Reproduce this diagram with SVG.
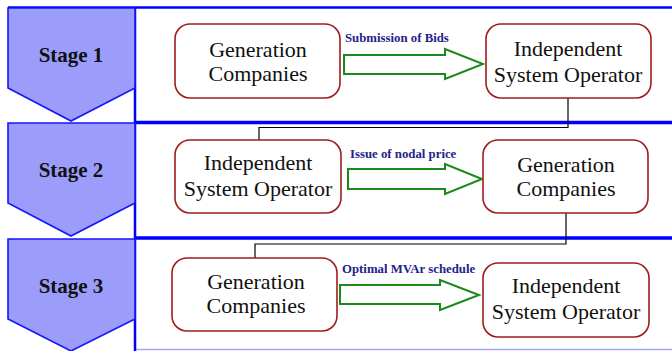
<svg xmlns="http://www.w3.org/2000/svg" width="672" height="351" viewBox="0 0 672 351">
<defs>
<style>
.stage{fill:#9c9cfb;stroke:#1414ff;stroke-width:1.6}
.stxt{font-family:'Liberation Serif','Times New Roman','DejaVu Serif',serif;font-weight:bold;font-size:21px;fill:#111;text-anchor:middle}
.node{fill:#fff;stroke:#a01c1c;stroke-width:1.6}
.ntxt{font-family:'Liberation Serif','Times New Roman','DejaVu Serif',serif;font-size:22px;fill:#111;text-anchor:middle}
.arr{fill:#fff;stroke:#1a8a1a;stroke-width:2;stroke-linejoin:miter}
.lbl{font-family:'Liberation Serif','Times New Roman','DejaVu Serif',serif;font-weight:bold;font-size:12.8px;fill:#22228a}
.sep{stroke:#0000ff;stroke-width:3.5}
.conn{fill:none;stroke:#000;stroke-width:1.2}
</style>
</defs>
<rect width="672" height="351" fill="#fff"/>
<g id="lanes">
<line x1="8" y1="7.5" x2="672" y2="7.5" stroke="#0000ff" stroke-width="2.5"/>
<line class="sep" x1="135" y1="122.5" x2="672" y2="122.5"/>
<line class="sep" x1="135" y1="238" x2="672" y2="238"/>
<line x1="135" y1="349.5" x2="672" y2="349.5" stroke="#a8a8ff" stroke-width="1.5"/>
<line x1="135" y1="7" x2="135" y2="351" stroke="#0000ff" stroke-width="2.5"/>
</g>
<g id="stage1"><polygon class="stage" points="8,8 135,8 135,88 71,121 8,88"/><text class="stxt" x="71" y="62">Stage 1</text></g>
<g id="stage2"><polygon class="stage" points="8,123 135,123 135,203 71,236 8,203"/><text class="stxt" x="71" y="177">Stage 2</text></g>
<g id="stage3"><polygon class="stage" points="8,239 135,239 135,319 71,351 8,319"/><text class="stxt" x="71" y="293">Stage 3</text></g>
<g id="connectors">
<polyline class="conn" points="568,98 568,127.5 259,127.5 259,140"/>
<polyline class="conn" points="566,213 566,244 255,244 255,258"/>
<polygon class="arr" points="344,55 445,55 445,49 483,64 445,79 445,74 344,74"/>
<polygon class="arr" points="348,169 445,169 445,164 482,179 445,194 445,189 348,189"/>
<polygon class="arr" points="340,285 440,285 440,280 479,295 440,310 440,304 340,304"/>
<text class="lbl" x="345" y="42">Submission of Bids</text>
<text class="lbl" x="350" y="158">Issue of nodal price</text>
<text class="lbl" x="342" y="273">Optimal MVAr schedule</text>
</g>
<g id="genco1"><rect class="node" x="175" y="24" width="165" height="74" rx="15"/><text class="ntxt" x="258" y="57">Generation</text><text class="ntxt" x="258" y="81">Companies</text></g>
<g id="iso1"><rect class="node" x="486" y="24" width="165" height="74" rx="15"/><text class="ntxt" x="568" y="56">Independent</text><text class="ntxt" x="568" y="82">System Operator</text></g>
<g id="iso2"><rect class="node" x="175" y="140" width="166" height="73" rx="15"/><text class="ntxt" x="258" y="170">Independent</text><text class="ntxt" x="258" y="196">System Operator</text></g>
<g id="genco2"><rect class="node" x="483" y="140" width="165" height="73" rx="15"/><text class="ntxt" x="566" y="172">Generation</text><text class="ntxt" x="566" y="196">Companies</text></g>
<g id="genco3"><rect class="node" x="172" y="258" width="165" height="73" rx="15"/><text class="ntxt" x="256" y="289">Generation</text><text class="ntxt" x="256" y="313">Companies</text></g>
<g id="iso3"><rect class="node" x="483" y="263" width="166" height="74" rx="15"/><text class="ntxt" x="566" y="293">Independent</text><text class="ntxt" x="566" y="319">System Operator</text></g>
</svg>
